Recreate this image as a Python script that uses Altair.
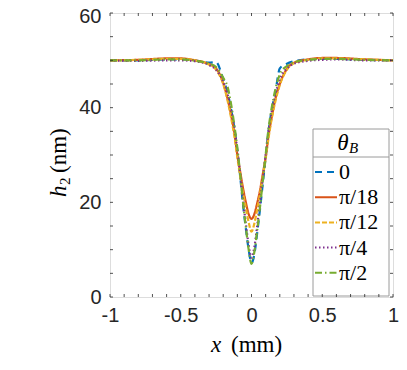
import altair as alt
import pandas as pd

# ---- data ----
x_vals = [-1, -0.8, -0.6, -0.5, -0.4, -0.3, -0.25, -0.2, -0.17, -0.14, -0.12, -0.1, -0.08, -0.06, -0.04, -0.02,
          0, 0.02, 0.04, 0.06, 0.08, 0.1, 0.12, 0.14, 0.17, 0.2, 0.25, 0.3, 0.4, 0.5, 0.6, 0.8, 1]

h_0 = [50.0, 50.0, 50.2, 50.2, 50.0, 49.5, 49.6, 46.0, 43.2, 39.0, 35.5, 31.0, 25.5, 19.5, 14.5, 10.0,
       7.2, 9.0, 13.5, 18.5, 24.0, 29.5, 35.0, 39.0, 43.5, 48.3, 49.3, 49.8, 50.2, 50.3, 50.3, 50.1, 50.0]
h_pi18 = [50.0, 50.1, 50.4, 50.4, 50.0, 49.2, 48.3, 45.2, 42.0, 37.8, 34.5, 30.0, 26.5, 23.0, 20.0, 17.5,
          16.5, 17.5, 19.8, 22.5, 26.0, 29.5, 34.0, 37.5, 42.0, 45.0, 48.2, 49.5, 50.2, 50.5, 50.5, 50.2, 50.0]
h_pi12 = [50.0, 50.1, 50.3, 50.3, 50.0, 49.1, 48.0, 45.0, 41.6, 37.2, 33.8, 29.5, 25.5, 22.0, 18.8, 15.8,
          13.8, 15.5, 18.5, 21.8, 25.5, 29.2, 33.5, 37.2, 41.5, 44.8, 48.0, 49.4, 50.1, 50.4, 50.4, 50.2, 50.0]
h_pi4 = [50.0, 49.9, 50.0, 50.0, 49.8, 49.0, 48.0, 45.5, 43.0, 39.0, 35.5, 31.0, 26.0, 20.5, 15.5, 11.0,
         8.3, 10.5, 15.0, 20.0, 25.0, 30.0, 35.0, 38.8, 43.0, 46.0, 48.3, 49.3, 49.9, 50.1, 50.2, 50.0, 50.0]
h_pi2 = [50.0, 50.0, 50.2, 50.2, 49.9, 49.3, 48.6, 46.3, 44.5, 40.0, 36.0, 31.5, 26.0, 20.0, 14.8, 10.0,
         7.0, 9.5, 14.0, 19.0, 24.5, 30.0, 35.5, 39.5, 44.0, 47.0, 48.8, 49.6, 50.1, 50.3, 50.3, 50.1, 50.0]

series_labels = ["0", "π/18", "π/12", "π/4", "π/2"]
series_values = [h_0, h_pi18, h_pi12, h_pi4, h_pi2]
colors = ["#0072BD", "#D95319", "#EDB120", "#7E2F8E", "#77AC30"]
dashes = [[7, 5], [1, 0], [5, 2], [1.5, 2.5], [7, 3, 1.5, 3]]

x_major = [-1, -0.5, 0, 0.5, 1]
y_major = [0, 20, 40, 60]
x_minor = [-1.0, -0.9, -0.8, -0.7, -0.6, -0.5, -0.4, -0.3, -0.2, -0.1, 0.0,
           0.1, 0.2, 0.3, 0.4, 0.5, 0.6, 0.7, 0.8, 0.9, 1.0]
y_minor = [0, 5, 10, 15, 20, 25, 30, 35, 40, 45, 50, 55, 60]

W, H = 283, 284
AX = "#262626"
SERIF = "Liberation Serif"
SANS = "Liberation Sans"

xs = alt.Scale(domain=[-1, 1], nice=False, zero=False)
ys = alt.Scale(domain=[0, 60], nice=False, zero=False)

x_enc = alt.X("x:Q", scale=xs, title=None,
              axis=alt.Axis(values=x_major, labelExpr="toString(datum.value)", grid=False, ticks=False,
                            domain=False, labelFont=SANS, labelFontSize=20, labelColor=AX,
                            labelPadding=8, labelFlush=False, labelOverlap=False))
y_enc = alt.Y("h:Q", scale=ys, title=None,
              axis=alt.Axis(values=y_major, grid=False, ticks=False, domain=False, labelFont=SANS,
                            labelFontSize=20, labelColor=AX, labelPadding=9, labelOverlap=False,
                            labelOffset={"condition": {"test": "datum.value == 60", "value": 3}, "value": 0}))

dummy = pd.DataFrame({"a": [0]})
layers = []

for lab, vals, col, dsh in zip(series_labels, series_values, colors, dashes):
    df = pd.DataFrame({"x": x_vals, "h": vals})
    layers.append(
        alt.Chart(df).mark_line(stroke=col, strokeDash=dsh, strokeWidth=2.2, interpolate="monotone", clip=True)
        .encode(x=x_enc, y=y_enc)
    )

# legend box
leg_left, leg_right, leg_top, leg_bot, leg_sep = 203, 279, 116, 283, 144
layers.append(alt.Chart(dummy).mark_rect(fill="white", stroke="#9a9a9a", strokeWidth=1).encode(
    x=alt.value(leg_left), x2=alt.value(leg_right), y=alt.value(leg_top), y2=alt.value(leg_bot)))
layers.append(alt.Chart(dummy).mark_rule(color="#9a9a9a", strokeWidth=1).encode(
    x=alt.value(leg_left), x2=alt.value(leg_right), y=alt.value(leg_sep)))
layers.append(alt.Chart(dummy).mark_text(text="θ", font=SERIF, fontStyle="italic", fontSize=23,
                                         align="center", baseline="alphabetic", color="black").encode(
    x=alt.value(233), y=alt.value(137)))
layers.append(alt.Chart(dummy).mark_text(text="B", font=SERIF, fontStyle="italic", fontSize=15,
                                         align="left", baseline="alphabetic", color="black").encode(
    x=alt.value(239), y=alt.value(140)))
for i, (lab, col, dsh) in enumerate(zip(series_labels, colors, dashes)):
    yy = 159 + 25.2 * i
    layers.append(alt.Chart(dummy).mark_rule(stroke=col, strokeDash=dsh, strokeWidth=2).encode(
        x=alt.value(205), x2=alt.value(227), y=alt.value(yy)))
    layers.append(alt.Chart(dummy).mark_text(text=lab, font=SERIF, fontSize=22, align="left",
                                             baseline="middle", color="black").encode(
        x=alt.value(229), y=alt.value(yy)))

# inward ticks on all four sides
xt = pd.DataFrame({"x": x_minor})
yt = pd.DataFrame({"h": y_minor})
tick_len = 3
layers.append(alt.Chart(xt).mark_rule(color=AX, strokeWidth=0.8).encode(
    x=x_enc, y=alt.value(H), y2=alt.value(H - tick_len)))
layers.append(alt.Chart(xt).mark_rule(color=AX, strokeWidth=0.8).encode(
    x=x_enc, y=alt.value(0), y2=alt.value(tick_len)))
layers.append(alt.Chart(yt).mark_rule(color=AX, strokeWidth=0.8).encode(
    y=y_enc, x=alt.value(0), x2=alt.value(tick_len)))
layers.append(alt.Chart(yt).mark_rule(color=AX, strokeWidth=0.8).encode(
    y=y_enc, x=alt.value(W), x2=alt.value(W - tick_len)))

# axis titles (LaTeX-like)
layers.append(alt.Chart(dummy).mark_text(text="x", font=SERIF, fontStyle="italic", fontSize=23,
                                         align="center", baseline="alphabetic", color="black").encode(
    x=alt.value(106), y=alt.value(339)))
layers.append(alt.Chart(dummy).mark_text(text="(mm)", font=SERIF, fontSize=23,
                                         align="left", baseline="alphabetic", color="black").encode(
    x=alt.value(121), y=alt.value(339)))
layers.append(alt.Chart(dummy).mark_text(text="h", font=SERIF, fontStyle="italic", fontSize=23, angle=270,
                                         align="left", baseline="alphabetic", color="black").encode(
    x=alt.value(-44), y=alt.value(184)))
layers.append(alt.Chart(dummy).mark_text(text="2", font=SERIF, fontSize=15, angle=270,
                                         align="left", baseline="alphabetic", color="black").encode(
    x=alt.value(-40), y=alt.value(172)))
layers.append(alt.Chart(dummy).mark_text(text="(nm)", font=SERIF, fontSize=23, angle=270,
                                         align="left", baseline="alphabetic", color="black").encode(
    x=alt.value(-44), y=alt.value(160)))

chart = alt.layer(*layers).properties(
    width=W, height=H,
    autosize=alt.AutoSizeParams(type="none"),
    padding={"left": 102, "top": 5, "right": 6, "bottom": 62},
).configure_view(stroke=AX, strokeWidth=1).configure(background="white")

chart.save("out.html", embed_options={"renderer": "svg", "actions": False})
